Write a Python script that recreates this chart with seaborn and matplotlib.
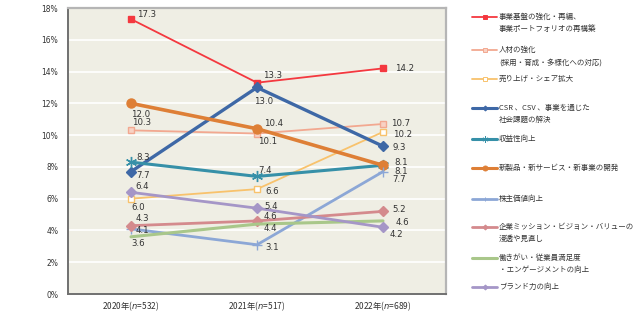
import matplotlib
matplotlib.use("Agg")
import matplotlib.pyplot as plt
from matplotlib.lines import Line2D
from matplotlib.ticker import FixedLocator
import seaborn as sns
import pandas as pd

# Survey years and sample sizes
years = ["2020", "2021", "2022"]
sample_sizes = [532, 517, 689]

# Share of respondents (%) for each management theme
themes = [
    "事業基盤の強化・再編、\n事業ポートフォリオの再構築",
    "人材の強化\n(採用・育成・多様化への対応)",
    "売り上げ・シェア拡大",
    "CSR 、CSV 、事業を通じた\n社会課題の解決",
    "収益性向上",
    "新製品・新サービス・新事業の開発",
    "株主価値向上",
    "企業ミッション・ビジョン・バリューの\n浸透や見直し",
    "働きがい・従業員満足度\n・エンゲージメントの向上",
    "ブランド力の向上",
]
business_base = [17.3, 13.3, 14.2]
human_capital = [10.3, 10.1, 10.7]
sales_share = [6.0, 6.6, 10.2]
csr_csv = [7.7, 13.0, 9.3]
profitability = [8.3, 7.4, 8.1]
new_business = [12.0, 10.4, 8.1]
shareholder_value = [4.1, 3.1, 7.7]
mission_vision = [4.3, 4.6, 5.2]
engagement = [3.6, 4.4, 4.6]
brand = [6.4, 5.4, 4.2]
series_values = [business_base, human_capital, sales_share, csr_csv, profitability,
                 new_business, shareholder_value, mission_vision, engagement, brand]
y_ticks = [0, 2, 4, 6, 8, 10, 12, 14, 16, 18]

# Styling per series: color, marker, marker face, marker size, line width
styles = [
    dict(color="#F4383F", marker="s", mfc="#F4383F", ms=4.6, lw=1.3),
    dict(color="#F2A890", marker="s", mfc="#F8D2C4", ms=4.6, lw=1.3),
    dict(color="#F8C26C", marker="s", mfc="white", ms=4.6, lw=1.3),
    dict(color="#3E68A6", marker="D", mfc="#3E68A6", ms=4.6, lw=2.4),
    dict(color="#3690A8", marker=(6, 2, 0), mfc="#3690A8", ms=8, lw=2.2),
    dict(color="#DE7F36", marker="o", mfc="#DE7F36", ms=6.5, lw=2.6),
    dict(color="#8CA7D6", marker="+", mfc="#8CA7D6", ms=6.5, lw=2.0),
    dict(color="#D48A8D", marker="D", mfc="#D48A8D", ms=4.6, lw=2.0),
    dict(color="#A9C78A", marker=None, mfc="#A9C78A", ms=0, lw=2.2),
    dict(color="#A596C7", marker="D", mfc="#A596C7", ms=4.6, lw=2.0),
]

# Value label offsets (points) for each series and year
label_offsets = [
    [(4, 3), (4, 5), (9, 0)],
    [(1, 6), (1, -6), (6, 0)],
    [(0, -6), (6, -2), (7, -2)],
    [(4, -3), (-2, -10), (7, -1)],
    [(4, 3), (1, 4), (8, 2)],
    [(0, -8), (5, 4), (8, -4.3)],
    [(3, -1), (6, -2), (7, -5.5)],
    [(3, 5), (5, 3), (7, 1)],
    [(0, -5), (5, -3), (9, -1)],
    [(3, 4), (5, 1), (5, -5)],
]

sns.set_theme(style="white")
plt.rcParams["font.family"] = ["Noto Sans CJK JP", "DejaVu Sans"]

fig = plt.figure(figsize=(6.42, 3.27), dpi=100)
W, H = 642, 327
ax = fig.add_axes([68 / W, 1 - 294 / H, (446 - 68) / W, (294 - 8) / H])
ax.set_facecolor("#EFEEE4")

for name, vals, st, offs in zip(themes, series_values, styles, label_offsets):
    df = pd.DataFrame({"year": years, "value": vals})
    sns.lineplot(data=df, x="year", y="value", ax=ax, color=st["color"],
                 linewidth=st["lw"], marker=st["marker"], markersize=st["ms"],
                 markerfacecolor=st["mfc"], markeredgecolor=st["color"],
                 markeredgewidth=1.0, sort=False, legend=False)
    for i, v in enumerate(vals):
        ax.annotate(f"{v:.1f}", (i, v), xytext=offs[i], textcoords="offset points",
                    fontsize=6.2, color="#333333", va="center", ha="left",
                    family=["DejaVu Sans"])

ax.set_xlim(-0.5, 2.5)
ax.set_ylim(0, 18)
ax.set_yticks(y_ticks)
ax.set_yticklabels([f"{t}%" for t in y_ticks], fontsize=5.5, color="#333333",
                   family=["DejaVu Sans"])
ax.set_xticks(range(len(years)))
ax.set_xticklabels([f"{y}年($\\it{{n}}$={n})" for y, n in zip(years, sample_sizes)],
                   fontsize=6, color="#333333")
ax.tick_params(axis="y", length=0, pad=7)
ax.tick_params(axis="x", length=0, pad=4)
ax.xaxis.set_minor_locator(FixedLocator([0.5, 1.5]))
ax.tick_params(axis="x", which="minor", direction="in", length=3, color="#888888", width=0.8)
ax.set_xlabel("")
ax.set_ylabel("")
ax.yaxis.grid(True, color="white", linewidth=1.2)
ax.set_axisbelow(True)
for side in ["top", "right"]:
    ax.spines[side].set_color("#B5B5B5")
    ax.spines[side].set_linewidth(1.6)
for side in ["left", "bottom"]:
    ax.spines[side].set_color("#707070")
    ax.spines[side].set_linewidth(1.4)

# Legend drawn in a pixel-based overlay on the right
lax = fig.add_axes([0, 0, 1, 1])
lax.set_xlim(0, W)
lax.set_ylim(H, 0)
lax.axis("off")
legend_y = [17, 50, 79, 108, 139, 168, 199, 227, 258, 287]
for name, st, y in zip(themes, styles, legend_y):
    lax.add_line(Line2D([472, 497], [y, y], color=st["color"], linewidth=min(st["lw"], 2.2)))
    if st["marker"] is not None:
        lax.add_line(Line2D([485], [y], color=st["color"], marker=st["marker"],
                            markersize=st["ms"] * 0.55, markerfacecolor=st["mfc"],
                            markeredgecolor=st["color"], markeredgewidth=0.7))
    lax.text(499, y - 4, name, fontsize=5.4, color="#333333", va="top", ha="left",
             linespacing=1.7)

fig.savefig("out.png", dpi=100)
